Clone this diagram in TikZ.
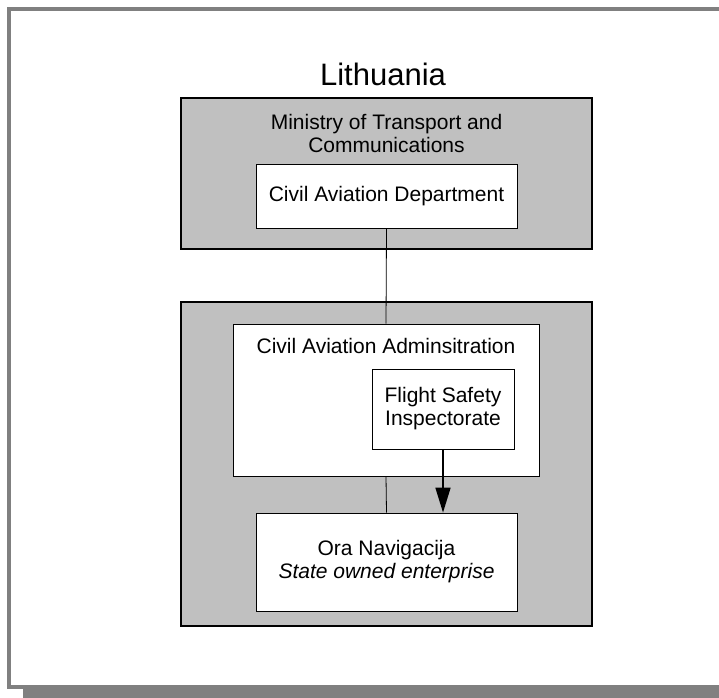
\documentclass[tikz,border=0pt]{standalone}
\usepackage{fontspec}
\setmainfont{Liberation Sans}
\usepackage{xcolor}
\usetikzlibrary{positioning, arrows.meta}

\definecolor{boxgray}{RGB}{192,192,192}
\definecolor{framegray}{RGB}{128,128,128}

\tikzset{
    grouparea/.style={draw=black, line width=1.6pt, fill=boxgray, minimum width=411pt, inner sep=0pt},
    unitbox/.style={draw=black, line width=0.8pt, fill=white, inner sep=0pt},
    bodytext/.style={font=\fontsize{21}{23}\selectfont, align=center, inner sep=0pt},
}

\begin{document}
\begin{tikzpicture}[x=1pt, y=-1pt]
    \useasboundingbox (0,0) rectangle (719,697);
    
    % page frame with its shadow
    \fill[framegray] (23,23) rectangle (770,720);
    \draw[framegray, line width=4pt, fill=white] (9,9) rectangle (750,687);
    
    \node[font=\fontsize{31}{37}\selectfont, anchor=base, inner sep=0pt] (country) at (383,85) {Lithuania};
    
    % grey areas
    \node[grouparea, minimum height=151pt] (ministry) at (386.5,173.5) {};
    \node[grouparea, minimum height=324pt] (agency) at (386.5,464) {};
    
    \node[bodytext, anchor=north] (ministrytxt) at (386.5,113.6) {Ministry of Transport and\\Communications};
    
    % white boxes
    \node[unitbox, minimum width=261pt, minimum height=64pt, bodytext] (dept) at (386.5,196) {Civil Aviation Department};
    \node[unitbox, minimum width=306pt, minimum height=152pt] (admin) at (386,400) {};
    \node[bodytext, anchor=base] (admintxt) at (386,353) {Civil Aviation Adminsitration};
    \node[unitbox, minimum width=142pt, minimum height=80pt, bodytext] (fsi) at (443,409) {Flight Safety\\Inspectorate};
    \node[unitbox, minimum width=261pt, minimum height=98pt, bodytext] (nav) at (386.5,562) {Ora Navigacija\\\textit{State owned enterprise}};
    
    % connectors
    \draw[line width=0.8pt] (dept.south) -- (admin.north);
    \draw[line width=0.8pt] (admin.south) -- (nav.north);
    \draw[line width=1.6pt, -{Triangle[length=25pt, width=15pt]}] (fsi.south) -- (fsi.south |- nav.north);
\end{tikzpicture}
\end{document}
